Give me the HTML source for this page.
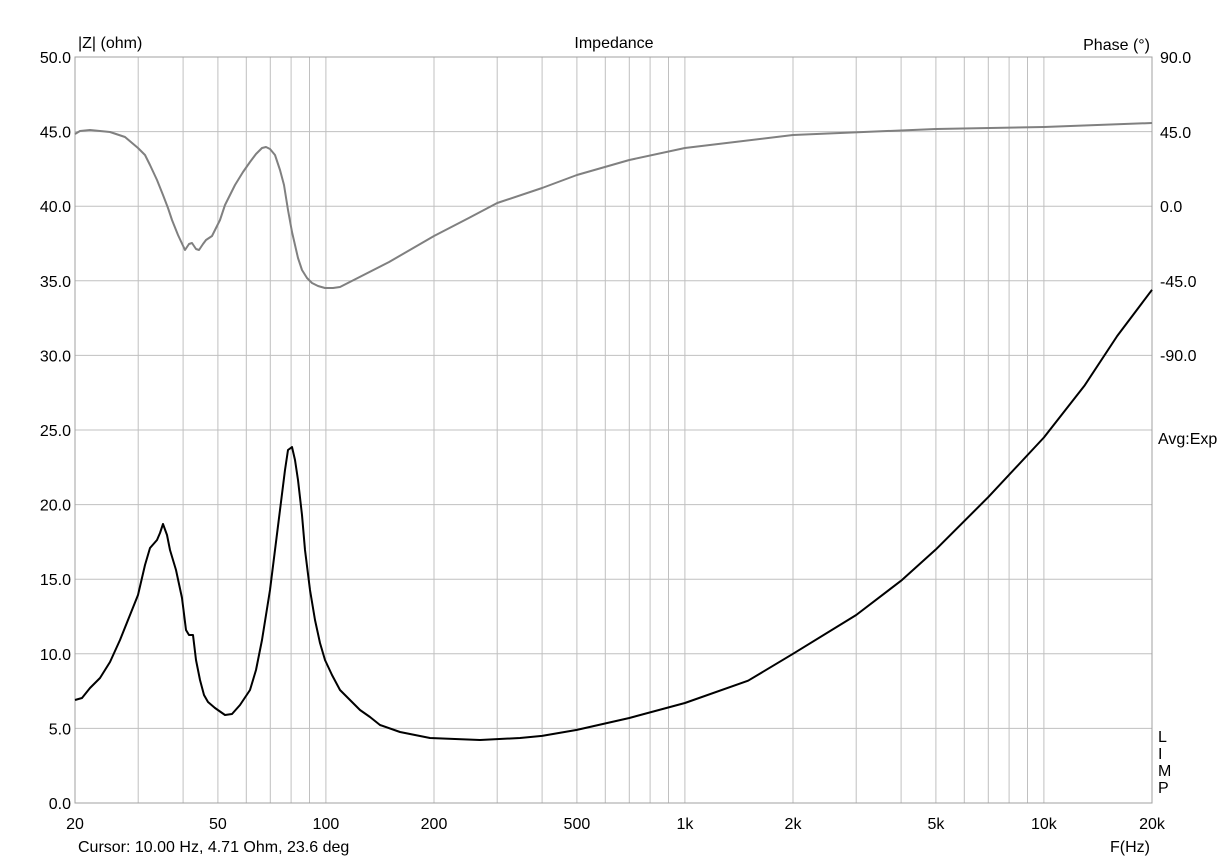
<!DOCTYPE html>
<html><head><meta charset="utf-8"><style>
body{margin:0;background:#fff;width:1228px;height:860px;overflow:hidden}
svg{display:block}
text{font-family:"Liberation Sans",Arial,sans-serif;font-size:16px;fill:#000}
</style></head><body>
<svg id="s" width="1228" height="860" xmlns="http://www.w3.org/2000/svg">
<g id="grid"></g>
<rect x="75" y="57" width="1077" height="746" fill="none" stroke="#a0a0a0" stroke-width="1"/>
<path id="ph" fill="none" stroke="#808080" stroke-width="2" stroke-linejoin="round"/>
<path id="im" fill="none" stroke="#000" stroke-width="2" stroke-linejoin="round"/>
<text x="78" y="48">|Z| (ohm)</text>
<text x="614" y="48" text-anchor="middle">Impedance</text>
<text x="1150" y="50" text-anchor="end" font-size="17">Phase (°)</text>
<text x="1158" y="444">Avg:Exp</text>
<text x="1158" y="742">L</text><text x="1158" y="759">I</text><text x="1158" y="776">M</text><text x="1158" y="793">P</text>
<text x="78" y="852" font-size="15">Cursor: 10.00 Hz, 4.71 Ohm, 23.6 deg</text>
<text x="1150" y="852" text-anchor="end" font-size="15">F(Hz)</text>
<g id="lab"></g>
</svg>
<script>
const X=f=>75+359*Math.log10(f/20);
const Y=z=>803-14.92*z;
let g='',l='';
let fs=[];
for(let f=30;f<100;f+=10)fs.push(f);
for(let f=100;f<1000;f+=100)fs.push(f);
for(let f=1000;f<10000;f+=1000)fs.push(f);
fs.push(10000,20000);
fs.forEach(f=>{const x=X(f).toFixed(1);g+=`<line x1="${x}" y1="57" x2="${x}" y2="803" stroke="#c0c0c0"/>`;});
for(let z=5;z<50;z+=5){const y=Y(z).toFixed(1);g+=`<line x1="75" y1="${y}" x2="1152" y2="${y}" stroke="#c0c0c0"/>`;}
for(let z=0;z<=50;z+=5){l+=`<text x="71" y="${(Y(z)+6).toFixed(1)}" text-anchor="end">${z.toFixed(1)}</text>`;}
[[90,57],[45,132],[0,206],[-45,281],[-90,355]].forEach(([p,y])=>{l+=`<text x="1160" y="${y+6}">${p.toFixed(1)}</text>`;});
[[20,'20'],[50,'50'],[100,'100'],[200,'200'],[500,'500'],[1000,'1k'],[2000,'2k'],[5000,'5k'],[10000,'10k'],[20000,'20k']].forEach(([f,t])=>{l+=`<text x="${X(f).toFixed(1)}" y="829" text-anchor="middle">${t}</text>`;});
document.getElementById('grid').innerHTML=g;
document.getElementById('lab').innerHTML=l;
const imLow=[[75,700],[82,698],[90,688],[100,678],[110,662],[120,640],[130,615],[138,595],[145,565],[150,548],[157,540],[160,533],[163,524],[167,535],[170,550],[176,570],[182,598],[186,630],[189,635],[193,635],[196,660],[200,680],[204,695],[208,702],[215,708],[225,715],[232,714],[240,705],[250,690],[256,670],[262,640],[266,615],[270,590],[275,550],[280,510],[285,470],[288,450],[292,447],[295,460],[298,480],[302,515],[305,550],[310,590],[315,620],[320,643],[325,660],[332,675],[340,690],[350,700],[360,710],[370,717],[380,725],[400,732],[430,738],[480,740],[520,738]];
const imHi=[[400,4.5],[500,4.9],[700,5.7],[1000,6.7],[1500,8.2],[2000,10],[3000,12.6],[4000,14.9],[5000,17],[7000,20.5],[10000,24.5],[13000,28],[16000,31.3],[20000,34.4]];
const pts=imLow.map(([x,y])=>x+','+y).concat(imHi.map(([f,z])=>X(f).toFixed(1)+','+Y(z).toFixed(1)));
document.getElementById('im').setAttribute('d','M'+pts.join(' L'));
const phLow=[[75,134],[80,131],[90,130],[110,132],[125,137],[138,148],[145,155],[150,165],[157,180],[163,195],[168,208],[172,220],[178,235],[185,250],[189,244],[192,243],[196,249],[199,250],[203,244],[206,240],[212,236],[215,230],[220,220],[225,205],[230,195],[235,185],[243,172],[250,162],[256,154],[262,148],[266,147],[270,149],[275,155],[280,170],[284,185],[288,210],[292,232],[295,245],[298,258],[302,270],[307,278],[312,283],[318,286],[325,288],[333,288],[340,287]];
const phHi=[[150,262],[200,236],[250,218],[300,203],[400,188],[500,175],[700,160],[1000,148],[2000,135],[5000,129],[10000,127],[20000,123]];
const pp=phLow.map(([x,y])=>x+','+y).concat(phHi.map(([f,y])=>X(f).toFixed(1)+','+y));
document.getElementById('ph').setAttribute('d','M'+pp.join(' L'));
</script>
</body></html>
